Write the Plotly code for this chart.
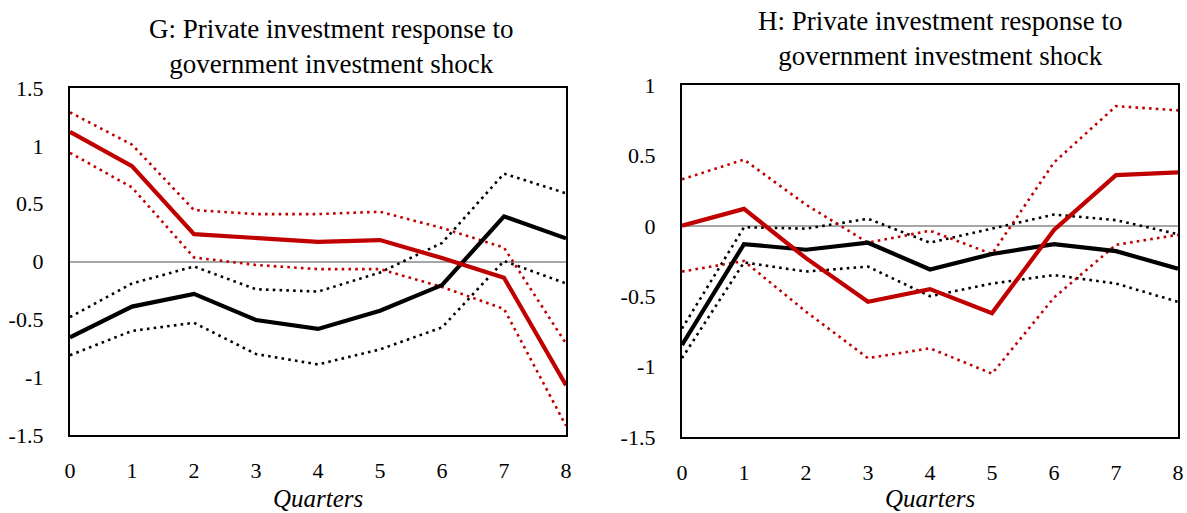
import plotly.graph_objects as go

quarters = [0, 1, 2, 3, 4, 5, 6, 7, 8]

# Panel G
g_red = [1.12, 0.825, 0.236, 0.20, 0.17, 0.185, 0.03, -0.14, -1.07]
g_red_hi = [1.29, 1.01, 0.445, 0.41, 0.41, 0.43, 0.29, 0.12, -0.71]
g_red_lo = [0.94, 0.64, 0.035, -0.03, -0.066, -0.066, -0.22, -0.41, -1.42]
g_blk = [-0.655, -0.39, -0.28, -0.506, -0.583, -0.425, -0.204, 0.39, 0.20]
g_blk_hi = [-0.48, -0.19, -0.043, -0.24, -0.26, -0.095, 0.16, 0.76, 0.59]
g_blk_lo = [-0.81, -0.60, -0.53, -0.80, -0.89, -0.76, -0.57, 0.005, -0.19]

# Panel H
h_red = [0.0, 0.12, -0.23, -0.54, -0.45, -0.62, -0.03, 0.36, 0.38]
h_red_hi = [0.33, 0.47, 0.15, -0.12, -0.035, -0.20, 0.45, 0.85, 0.82]
h_red_lo = [-0.325, -0.25, -0.61, -0.94, -0.87, -1.05, -0.51, -0.135, -0.064]
h_blk = [-0.846, -0.13, -0.17, -0.12, -0.31, -0.20, -0.13, -0.18, -0.305]
h_blk_hi = [-0.73, -0.01, -0.02, 0.05, -0.12, -0.02, 0.08, 0.04, -0.06]
h_blk_lo = [-0.94, -0.26, -0.325, -0.29, -0.50, -0.41, -0.35, -0.41, -0.54]

g_yticks = [1.5, 1, 0.5, 0, -0.5, -1, -1.5]
g_ytext = ["1.5", "1", "0.5", "0", "-0.5", "-1", "-1.5"]
h_yticks = [1, 0.5, 0, -0.5, -1, -1.5]
h_ytext = ["1", "0.5", "0", "-0.5", "-1", "-1.5"]
xtext = [str(q) for q in quarters]

RED = "#C00000"
BLACK = "#000000"
FONT = "Liberation Serif"

fig = go.Figure()

def add_panel(xa, ya, red, red_hi, red_lo, blk, blk_hi, blk_lo):
    for ys, col in [(blk_hi, BLACK), (blk_lo, BLACK), (red_hi, RED), (red_lo, RED)]:
        fig.add_trace(go.Scatter(x=quarters, y=ys, mode="lines", xaxis=xa, yaxis=ya,
                                 line=dict(color=col, width=2.6, dash="2.6px,4.2px"),
                                 showlegend=False, hoverinfo="skip"))
    fig.add_trace(go.Scatter(x=quarters, y=blk, mode="lines", xaxis=xa, yaxis=ya,
                             line=dict(color=BLACK, width=4.2), showlegend=False))
    fig.add_trace(go.Scatter(x=quarters, y=red, mode="lines", xaxis=xa, yaxis=ya,
                             line=dict(color=RED, width=4.2), showlegend=False))

add_panel("x", "y", g_red, g_red_hi, g_red_lo, g_blk, g_blk_hi, g_blk_lo)
add_panel("x2", "y2", h_red, h_red_hi, h_red_lo, h_blk, h_blk_hi, h_blk_lo)

W, H = 1187, 513

axis_common = dict(showline=True, mirror=True, linecolor="black", linewidth=2.3,
                   showgrid=False, ticks="", automargin=False,
                   tickfont=dict(family=FONT, size=22, color="black"))

xa_common = dict(axis_common, range=[0, 8], tickvals=quarters, ticktext=xtext,
                 zeroline=False, ticklabelstandoff=14)

fig.update_layout(
    width=W, height=H,
    margin=dict(l=0, r=0, t=0, b=0, autoexpand=False),
    paper_bgcolor="white", plot_bgcolor="white",
    xaxis=dict(xa_common, domain=[70 / W, 566 / W], anchor="y"),
    yaxis=dict(axis_common, domain=[(H - 435) / H, (H - 88) / H], anchor="x",
               range=[-1.5, 1.5], tickvals=g_yticks, ticktext=g_ytext,
               zeroline=True, zerolinecolor="#a6a6a6", zerolinewidth=2,
               ticklabelstandoff=20),
    xaxis2=dict(xa_common, domain=[682 / W, 1178 / W], anchor="y2"),
    yaxis2=dict(axis_common, domain=[(H - 437) / H, (H - 85) / H], anchor="x2",
                range=[-1.5, 1], tickvals=h_yticks, ticktext=h_ytext,
                zeroline=True, zerolinecolor="#a6a6a6", zerolinewidth=2,
                ticklabelstandoff=20),
    font=dict(family=FONT, color="black"),
)

title_font = dict(family=FONT, size=27, color="black")
fig.add_annotation(x=331 / W, y=1 - 46 / H, xref="paper", yref="paper",
                   text="G: Private investment response to<br>government investment shock",
                   showarrow=False, font=title_font, align="center",
                   xanchor="center", yanchor="middle")
fig.add_annotation(x=940 / W, y=1 - 39 / H, xref="paper", yref="paper",
                   text="H: Private investment response to<br>government investment shock",
                   showarrow=False, font=title_font, align="center",
                   xanchor="center", yanchor="middle")

xlab_font = dict(family=FONT, size=25, color="black")
fig.add_annotation(x=318 / W, y=1 - 498 / H, xref="paper", yref="paper",
                   text="<i>Quarters</i>", showarrow=False, font=xlab_font,
                   xanchor="center", yanchor="middle")
fig.add_annotation(x=930 / W, y=1 - 498 / H, xref="paper", yref="paper",
                   text="<i>Quarters</i>", showarrow=False, font=xlab_font,
                   xanchor="center", yanchor="middle")

fig.write_html("out.html")
